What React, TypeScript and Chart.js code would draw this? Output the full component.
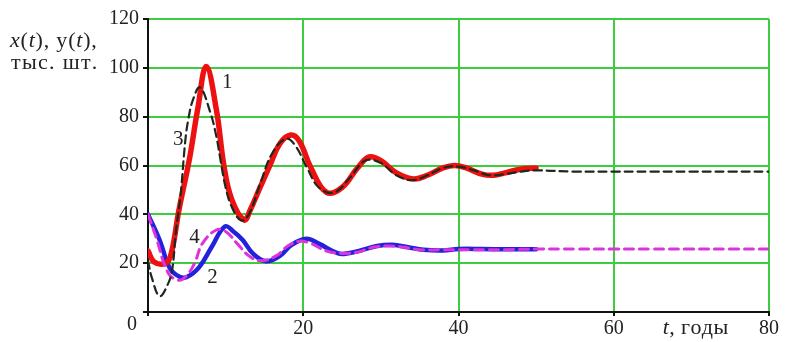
import React, { useEffect, useRef } from 'react';
import { Chart, registerables } from 'chart.js';
Chart.register(...registerables);

// Series 1: x(t), red solid
const t1 = [0, 0.8, 2.3, 3, 4, 5.3, 6.4, 7.5, 8.8, 9.8, 10.8, 12.4, 13.2, 14.3, 15.7, 17, 18.4, 19.5, 21, 23, 25, 27, 28.5, 30, 32, 34.2, 36, 38, 39.5, 41, 43, 44.5, 46, 48, 50];
const v1 = [25, 20.5, 20, 24, 42, 62, 83, 100.5, 83, 59.5, 46, 37.7, 42, 50, 60, 69, 72.5, 70, 59, 49, 51, 59, 63.5, 62, 57, 54.5, 56, 59, 60, 59, 56.5, 56, 57, 58.5, 59];

// Series 2: y(t), blue solid
const t2 = [0, 1.5, 2.8, 4, 5, 6.6, 8.2, 9.9, 11, 12.2, 13.5, 15.2, 17, 18.5, 20.4, 22, 24.5, 26, 27.5, 29.5, 31.5, 33.5, 35.5, 38, 40, 43, 46, 50];
const v2 = [40, 29.5, 18, 14.5, 14.3, 18.4, 26.6, 35, 33, 29.5, 24, 20.8, 23, 27.5, 30, 28, 24, 24.2, 25.3, 27, 27.5, 26.5, 25.5, 25.2, 25.8, 25.8, 25.7, 25.7];

// Series 3: black dashed
const t3 = [0, 0.5, 1.5, 2.5, 3.1, 3.6, 4.2, 4.8, 5.2, 5.8, 6.7, 8, 8.8, 9.3, 10, 10.8, 12, 13, 14.5, 16, 17.8, 19, 20.5, 22, 24, 26, 28, 30, 32, 34, 36, 38, 40, 42, 44, 46, 48, 50, 55, 60, 65, 70, 75, 80];
const v3 = [21, 14, 6.5, 11, 17, 33, 48, 70, 79, 87, 92, 82, 72, 63, 51, 43, 37.5, 40, 53, 65, 71, 68, 59, 51, 49, 55, 62, 61, 56, 54, 56, 59, 59.5, 58, 56, 56.5, 57.5, 58, 57.5, 57.5, 57.5, 57.5, 57.5, 57.5];

// Series 4: magenta dashed
const t4 = [0, 1, 2.6, 4, 5, 6, 7, 8.8, 10, 11.5, 13, 14.5, 16.5, 18, 19.5, 21, 23, 25, 27, 29, 31, 33, 35, 38, 42, 46, 50, 55, 60, 65, 70, 75, 80];
const v4 = [40, 31, 16, 13, 15, 20, 28, 33.6, 33, 28, 23, 21, 23, 27, 29, 28, 25, 24, 24.5, 26.5, 27, 26.5, 25.5, 25.5, 25.5, 25.5, 25.8, 25.8, 25.8, 25.8, 25.8, 25.8, 25.8];

// Curve number labels (text, t, value)
const curveLabels = ['1', '2', '3', '4'];
const curveLabelT = [10.2, 8.3, 3.9, 6.0];
const curveLabelV = [94, 14, 70.5, 30.7];

const xTicks = [0, 20, 40, 60, 80];
const yTicks = [0, 20, 40, 60, 80, 100, 120];

const FONT = '"Liberation Serif", "Times New Roman", serif';
const pts = (t: number[], v: number[]) => t.map((x, i) => ({ x, y: v[i] }));

function drawRich(ctx: CanvasRenderingContext2D, segs: [string, boolean][], x: number, y: number, size: number, spacing = 0) {
  for (const [txt, it] of segs) {
    ctx.font = (it ? 'italic ' : '') + size + 'px ' + FONT;
    for (const ch of txt) {
      ctx.fillText(ch, x, y);
      x += ctx.measureText(ch).width + spacing;
    }
  }
}

const textPlugin = {
  id: 'texts',
  afterDraw(chart: any) {
    const ctx = chart.ctx as CanvasRenderingContext2D;
    const xs = chart.scales.x;
    const ys = chart.scales.y;
    const { left, bottom } = chart.chartArea;
    ctx.save();
    ctx.fillStyle = '#222';
    ctx.textBaseline = 'middle';
    ctx.textAlign = 'center';
    ctx.font = '20px ' + FONT;
    ctx.fillText('0', left - 16, bottom + 13);
    ctx.textAlign = 'left';
    // axis titles
    drawRich(ctx, [['x', true], ['(', false], ['t', true], ['), y(', false], ['t', true], ['),', false]], 10, 41, 22, 0.8);
    drawRich(ctx, [['тыс. шт.', false]], 11, 63, 22, 1.3);
    drawRich(ctx, [['t', true], [', годы', false]], xs.getPixelForValue(66.3), bottom + 16, 22, 0.4);
    // curve labels
    ctx.font = '21px ' + FONT;
    ctx.textAlign = 'center';
    curveLabels.forEach((s, i) => {
      ctx.fillText(s, xs.getPixelForValue(curveLabelT[i]), ys.getPixelForValue(curveLabelV[i]));
    });
    ctx.restore();
  },
};

export default function App() {
  const ref = useRef<HTMLCanvasElement>(null);
  useEffect(() => {
    const chart = new Chart(ref.current!, {
      type: 'line',
      data: {
        datasets: [
          { data: pts(t3, v3), borderColor: '#1c2a1c', borderWidth: 2.2, borderDash: [8, 5], order: 1 },
          { data: pts(t4, v4), borderColor: '#dd33dd', borderWidth: 3, borderDash: [9, 6], order: 2 },
          { data: pts(t1, v1), borderColor: '#ee1111', borderWidth: 5.5, order: 3 },
          { data: pts(t2, v2), borderColor: '#2222dd', borderWidth: 4.5, order: 4 },
        ] as any,
      },
      options: {
        animation: false,
        responsive: false,
        parsing: false as any,
        elements: { point: { radius: 0 }, line: { tension: 0.4, fill: false, borderJoinStyle: 'round', borderCapStyle: 'round' } },
        layout: { padding: { top: 19, right: 18, left: 0, bottom: 0 } },
        plugins: { legend: { display: false }, tooltip: { enabled: false } },
        scales: {
          x: {
            type: 'linear',
            min: 0,
            max: 80,
            afterBuildTicks: (s: any) => { s.ticks = xTicks.map((v) => ({ value: v })); },
            afterFit: (s: any) => { s.height = 30; },
            border: { color: '#111', width: 2 },
            grid: {
              color: (c: any) => (c.tick && c.tick.value === 0 ? 'rgba(0,0,0,0)' : '#3dcc3d'),
              lineWidth: 2,
              tickColor: '#111',
              tickLength: 4,
            },
            ticks: {
              padding: 1,
              color: '#222',
              font: { family: FONT, size: 20 },
              callback: (v: any) => (v === 0 ? '' : String(v)),
              maxRotation: 0,
            },
          },
          y: {
            type: 'linear',
            min: 0,
            max: 120,
            afterBuildTicks: (s: any) => { s.ticks = yTicks.map((v) => ({ value: v })); },
            afterFit: (s: any) => { s.width = 148; },
            border: { color: '#111', width: 2 },
            grid: {
              color: (c: any) => (c.tick && c.tick.value === 0 ? 'rgba(0,0,0,0)' : '#3dcc3d'),
              lineWidth: 2,
              tickColor: '#111',
              tickLength: 5,
            },
            ticks: {
              padding: 4,
              color: '#222',
              font: { family: FONT, size: 20 },
              callback: (v: any) => (v === 0 ? '' : String(v)),
            },
          },
        },
      },
      plugins: [textPlugin],
    });
    return () => chart.destroy();
  }, []);
  return (
    <div style={{ position: 'absolute', left: 0, top: 0, width: 787, height: 342, background: '#fff' }}>
      <canvas ref={ref} width={787} height={342} style={{ display: 'block' }} />
    </div>
  );
}
